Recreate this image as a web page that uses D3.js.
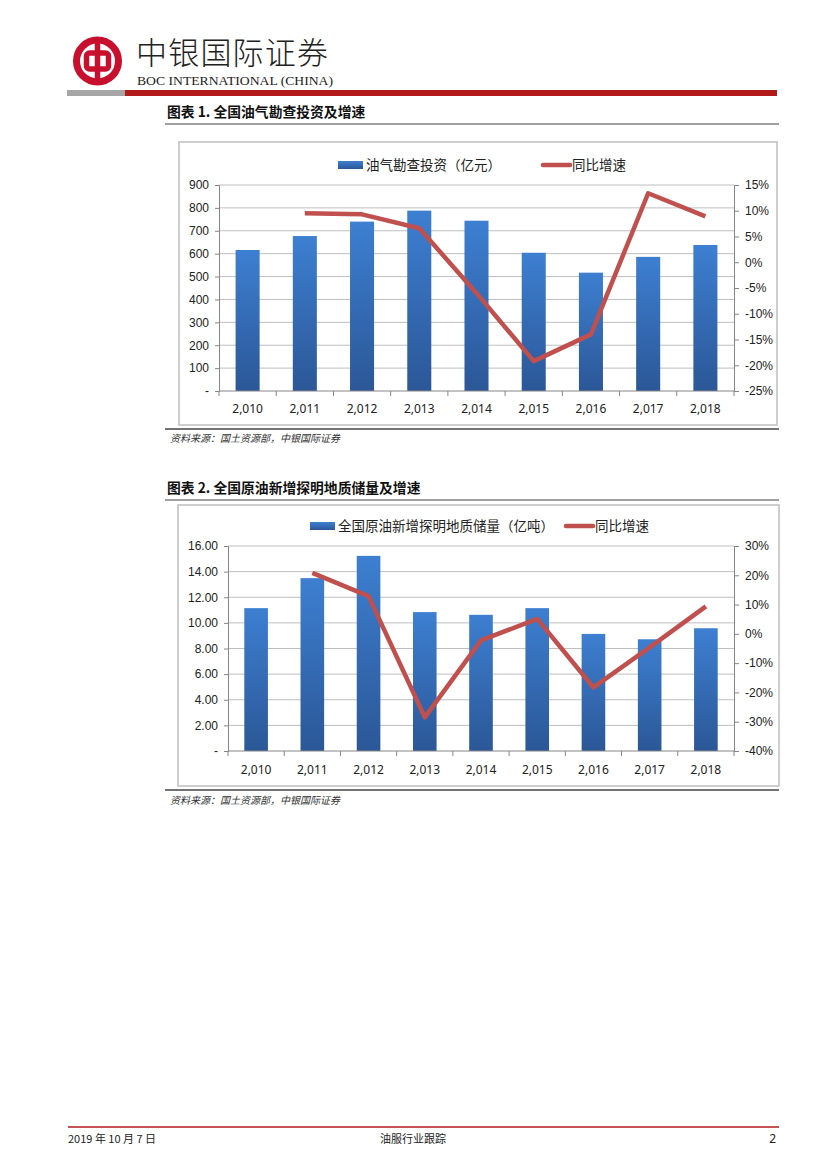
<!DOCTYPE html>
<meta charset="utf-8">
<style>

body {
  margin: 0;
  background: #fff;
}

svg {
  display: block;
  font-family: "Noto Sans", "Noto Sans CJK SC", sans-serif;
}

.cjk {
  font-family: "Noto Sans CJK SC", sans-serif;
}

.grid line {
  stroke: #bfbfbf;
  stroke-width: 1px;
}

.axis path,
.axis line {
  stroke: #868686;
  stroke-width: 1px;
}

.axis text {
  fill: #222;
  font-size: 12px;
}

</style>
<body>
<script src="https://cdn.jsdelivr.net/npm/d3@7"></script>
<script>

var years = [2010, 2011, 2012, 2013, 2014, 2015, 2016, 2017, 2018];

// chart 1: 油气勘查投资 (亿元) + yoy (%)
var invest = [616, 677, 740, 788, 744, 604, 517, 586, 638];
var investGrowth = [null, 9.5, 9.3, 6.6, -6.0, -19.2, -14.0, 13.4, 8.9];
var investTicks = [0, 100, 200, 300, 400, 500, 600, 700, 800, 900];
var investPctTicks = [-25, -20, -15, -10, -5, 0, 5, 10, 15];

// chart 2: 原油新增探明地质储量 (亿吨) + yoy (%)
var reserve = [11.15, 13.49, 15.23, 10.84, 10.63, 11.15, 9.14, 8.72, 9.58];
var reserveGrowth = [null, 20.8, 12.9, -28.5, -2.2, 5.1, -18.3, -4.6, 9.4];
var reserveTicks = [0, 2, 4, 6, 8, 10, 12, 14, 16];
var reservePctTicks = [-40, -30, -20, -10, 0, 10, 20, 30];

var w = 827,
    h = 1169;

var svg = d3.select("body").append("svg")
    .attr("width", w)
    .attr("height", h);

var defs = svg.append("defs");
var grad = defs.append("linearGradient")
    .attr("id", "barGrad")
    .attr("x1", 0).attr("y1", 0)
    .attr("x2", 0).attr("y2", 1);
grad.append("stop").attr("offset", "0%").attr("stop-color", "#3d7fd1");
grad.append("stop").attr("offset", "100%").attr("stop-color", "#2b5797");

// ---- header ----
var logo = svg.append("g").attr("transform", "translate(97.5,61)");
logo.append("circle").attr("r", 21).attr("fill", "none")
    .attr("stroke", "#c8102e").attr("stroke-width", 7);
logo.append("rect").attr("x", -11).attr("y", -8).attr("width", 22).attr("height", 16)
    .attr("rx", 3).attr("fill", "none")
    .attr("stroke", "#c8102e").attr("stroke-width", 5.5);
logo.append("line").attr("y1", -22).attr("y2", 22)
    .attr("stroke", "#c8102e").attr("stroke-width", 5.5);

svg.append("text")
    .attr("class", "cjk")
    .attr("x", 136).attr("y", 64)
    .attr("font-size", 31)
    .attr("font-weight", 300)
    .attr("textLength", 192)
    .attr("fill", "#222")
    .text("中银国际证券");

svg.append("text")
    .attr("x", 137).attr("y", 85)
    .attr("font-family", "'Liberation Serif', serif")
    .attr("font-size", 12.5)
    .attr("textLength", 196)
    .attr("lengthAdjust", "spacingAndGlyphs")
    .attr("fill", "#222")
    .text("BOC INTERNATIONAL (CHINA)");

svg.append("rect").attr("x", 67).attr("y", 90).attr("width", 58).attr("height", 6).attr("fill", "#a6a6a6");
svg.append("rect").attr("x", 125).attr("y", 90).attr("width", 652).attr("height", 6).attr("fill", "#b31b1b");

// ---- footer ----
svg.append("line").attr("x1", 68).attr("x2", 779).attr("y1", 1127).attr("y2", 1127)
    .attr("stroke", "#b31b1b").attr("stroke-width", 1.5);
svg.append("text").attr("class", "cjk").attr("x", 68).attr("y", 1143)
    .attr("font-size", 11).attr("fill", "#222").text("2019 年 10 月 7 日");
svg.append("text").attr("class", "cjk").attr("x", 413).attr("y", 1143)
    .attr("font-size", 11).attr("text-anchor", "middle").attr("fill", "#222").text("油服行业跟踪");
svg.append("text").attr("x", 776).attr("y", 1143)
    .attr("font-size", 12).attr("text-anchor", "end").attr("fill", "#222").text("2");

drawChart({
  title: "图表 1. 全国油气勘查投资及增速",
  titleY: 117,
  ruleY: 124,
  box: [179, 142, 777, 425],
  x0: 219, x1: 734, yTop: 185, yBottom: 391,
  values: invest, growth: investGrowth,
  leftTicks: investTicks, leftFormat: function(d) { return d === 0 ? "-" : d3.format("d")(d); },
  rightTicks: investPctTicks,
  legendBar: "油气勘查投资（亿元）",
  legendY: 165, legendBarX: 338, legendLineX: 543,
  labelY: 413,
  sourceY: 442
});

drawChart({
  title: "图表 2. 全国原油新增探明地质储量及增速",
  titleY: 493,
  ruleY: 500,
  box: [178, 505, 779, 786],
  x0: 228, x1: 734, yTop: 546, yBottom: 751,
  values: reserve, growth: reserveGrowth,
  leftTicks: reserveTicks, leftFormat: function(d) { return d === 0 ? "-" : d3.format(".2f")(d); },
  rightTicks: reservePctTicks,
  legendBar: "全国原油新增探明地质储量（亿吨）",
  legendY: 526, legendBarX: 310, legendLineX: 566,
  labelY: 774,
  sourceY: 804
});

function drawChart(c) {
  var g = svg.append("g");

  g.append("text")
      .attr("class", "cjk")
      .attr("x", 167).attr("y", c.titleY)
      .attr("font-size", 13.8).attr("font-weight", 700)
      .attr("fill", "#111")
      .text(c.title);

  g.append("line")
      .attr("x1", 165).attr("x2", 779)
      .attr("y1", c.ruleY).attr("y2", c.ruleY)
      .attr("stroke", "#444").attr("stroke-width", 1);

  g.append("rect")
      .attr("x", c.box[0]).attr("y", c.box[1])
      .attr("width", c.box[2] - c.box[0]).attr("height", c.box[3] - c.box[1])
      .attr("fill", "#fff").attr("stroke", "#bfbfbf").attr("stroke-width", 1.5);

  g.append("line")
      .attr("x1", 165).attr("x2", 779)
      .attr("y1", c.box[3] + 4).attr("y2", c.box[3] + 4)
      .attr("stroke", "#444").attr("stroke-width", 1.5);

  g.append("text")
      .attr("class", "cjk")
      .attr("x", 170).attr("y", c.sourceY)
      .attr("font-size", 10).attr("font-style", "italic")
      .attr("fill", "#333")
      .text("资料来源：国土资源部，中银国际证券");

  var x = d3.scaleBand()
      .domain(years)
      .range([c.x0, c.x1])
      .paddingInner(0.58)
      .paddingOuter(0.29);

  var y = d3.scaleLinear()
      .domain(d3.extent(c.leftTicks))
      .range([c.yBottom, c.yTop]);

  var y2 = d3.scaleLinear()
      .domain(d3.extent(c.rightTicks))
      .range([c.yBottom, c.yTop]);

  // gridlines
  g.append("g")
      .attr("class", "grid")
    .selectAll("line")
      .data(c.leftTicks.slice(1))
    .enter().append("line")
      .attr("x1", c.x0).attr("x2", c.x1)
      .attr("y1", function(d) { return y(d); })
      .attr("y2", function(d) { return y(d); });

  // bars
  var data = years.map(function(yr, i) { return {year: yr, v: c.values[i], g: c.growth[i]}; });

  g.append("g").selectAll("rect")
      .data(data)
    .enter().append("rect")
      .attr("x", function(d) { return x(d.year); })
      .attr("width", x.bandwidth())
      .attr("y", function(d) { return y(d.v); })
      .attr("height", function(d) { return y(0) - y(d.v); })
      .attr("fill", "url(#barGrad)");

  // left axis
  g.append("g")
      .attr("class", "axis")
      .attr("transform", "translate(" + c.x0 + ",0)")
      .call(d3.axisLeft(y).tickValues(c.leftTicks).tickFormat(c.leftFormat).tickSize(4).tickPadding(6));

  // right axis
  g.append("g")
      .attr("class", "axis")
      .attr("transform", "translate(" + c.x1 + ",0)")
      .call(d3.axisRight(y2).tickValues(c.rightTicks).tickFormat(function(d) { return d + "%"; }).tickSize(5).tickPadding(6));

  // bottom axis: line with ticks between categories
  var bottom = g.append("g").attr("class", "axis");
  bottom.append("line")
      .attr("x1", c.x0).attr("x2", c.x1)
      .attr("y1", c.yBottom).attr("y2", c.yBottom);
  bottom.selectAll(".sep")
      .data(d3.range(years.length + 1))
    .enter().append("line")
      .attr("class", "sep")
      .attr("x1", function(i) { return c.x0 + i * x.step(); })
      .attr("x2", function(i) { return c.x0 + i * x.step(); })
      .attr("y1", c.yBottom).attr("y2", c.yBottom + 5);
  bottom.selectAll("text")
      .data(years)
    .enter().append("text")
      .attr("x", function(d) { return x(d) + x.bandwidth() / 2; })
      .attr("y", c.labelY)
      .attr("text-anchor", "middle")
      .text(d3.format(","));

  // growth line
  var line = d3.line()
      .defined(function(d) { return d.g !== null; })
      .x(function(d) { return x(d.year) + x.bandwidth() / 2; })
      .y(function(d) { return y2(d.g); });

  g.append("path")
      .datum(data)
      .attr("fill", "none")
      .attr("stroke", "#c0504d")
      .attr("stroke-width", 4.5)
      .attr("stroke-linejoin", "round")
      .attr("d", line);

  // legend
  var lg = g.append("g").attr("class", "cjk").attr("font-size", 13.5).attr("fill", "#222");
  lg.append("rect")
      .attr("x", c.legendBarX).attr("y", c.legendY - 4)
      .attr("width", 25).attr("height", 8)
      .attr("fill", "url(#barGrad)");
  lg.append("text")
      .attr("x", c.legendBarX + 28).attr("y", c.legendY + 5)
      .text(c.legendBar);
  lg.append("line")
      .attr("x1", c.legendLineX).attr("x2", c.legendLineX + 27)
      .attr("y1", c.legendY).attr("y2", c.legendY)
      .attr("stroke", "#c0504d").attr("stroke-width", 4.5)
      .attr("stroke-linecap", "round");
  lg.append("text")
      .attr("x", c.legendLineX + 29).attr("y", c.legendY + 5)
      .text("同比增速");
}

</script>
</body>
